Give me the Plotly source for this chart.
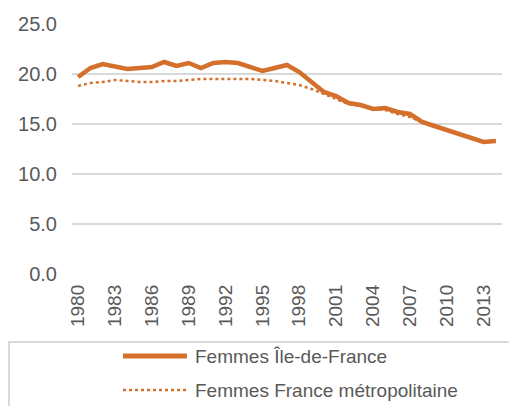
import plotly.graph_objects as go

years = [str(y) for y in range(1980, 2015)]
idf = [19.7, 20.6, 21.0, 20.8, 20.5, 20.6, 20.7, 21.2, 20.8, 21.1,
       20.6, 21.1, 21.2, 21.1, 20.7, 20.3, 20.6, 20.9, 20.2, 19.2,
       18.2, 17.8, 17.1, 16.9, 16.5, 16.6, 16.2, 16.0, 15.2, 14.8,
       14.4, 14.0, 13.6, 13.2, 13.3]
fra = [18.8, 19.1, 19.2, 19.4, 19.3, 19.2, 19.2, 19.3, 19.3, 19.4,
       19.5, 19.5, 19.5, 19.5, 19.5, 19.4, 19.3, 19.1, 18.9, 18.5,
       18.0, 17.5, 17.0, 16.8, 16.5, 16.4, 16.0, 15.7, 15.2, 14.8,
       14.4, 14.0, 13.6, 13.2, 13.3]
tick_years = [str(y) for y in range(1980, 2015, 3)]
y_ticks = [0, 5, 10, 15, 20, 25]
names = ["Femmes Île-de-France", "Femmes France métropolitaine"]

orange = "#D4702C"
grey_txt = "#595959"
grid = "#D9D9D9"
font = "Liberation Sans, Arial, sans-serif"

fig = go.Figure()
fig.add_trace(go.Scatter(x=years, y=fra, mode="lines", name=names[1],
                         line=dict(color=orange, width=2.5, dash="3px,3px")))
fig.add_trace(go.Scatter(x=years, y=idf, mode="lines", name=names[0],
                         line=dict(color=orange, width=4.5)))

# page body has an 8px margin, so the figure is sized/offset accordingly
fig.update_layout(
    width=509, height=398,
    margin=dict(l=64, r=15, t=16, b=132, autoexpand=False),
    paper_bgcolor="white", plot_bgcolor="white",
    showlegend=False,
    font=dict(family=font, size=19, color=grey_txt),
    xaxis=dict(type="category", range=[-0.5, 34.5], tickmode="array",
               tickvals=tick_years, ticktext=tick_years, tickangle=-90,
               showgrid=False, showline=False, zeroline=False, ticks="",
               automargin=False, ticklabelstandoff=6,
               tickfont=dict(size=19, color=grey_txt)),
    yaxis=dict(range=[0, 25], tickmode="array", tickvals=y_ticks,
               ticktext=[f"{v:.1f}" for v in y_ticks],
               showgrid=True, gridcolor=grid, gridwidth=2,
               zeroline=False, showline=False, ticks="",
               automargin=False,
               ticklabelstandoff=14,
               tickfont=dict(size=20, color=grey_txt)),
)

# legend frame
fig.add_shape(type="rect", xref="paper", yref="paper",
              x0=-0.1465, x1=1.06, y0=-0.56, y1=-0.272,
              line=dict(color=grid, width=2), fillcolor="rgba(0,0,0,0)", layer="below")
# legend entries
lx0, lx1 = (123 - 72) / 430, (187 - 72) / 430
ty = [(274 - 356) / 250, (274 - 390) / 250]
fig.add_shape(type="line", xref="paper", yref="paper", x0=lx0, x1=lx1, y0=ty[0], y1=ty[0],
              line=dict(color=orange, width=5))
fig.add_shape(type="line", xref="paper", yref="paper", x0=lx0, x1=lx1, y0=ty[1], y1=ty[1],
              line=dict(color=orange, width=2.5, dash="3px,3px"))
for name, yy in zip(names, ty):
    fig.add_annotation(xref="paper", yref="paper", x=(193 - 72) / 430, y=yy,
                       text=name, showarrow=False, xanchor="left", yanchor="middle",
                       font=dict(family=font, size=19, color=grey_txt))

fig.write_html("out.html")
